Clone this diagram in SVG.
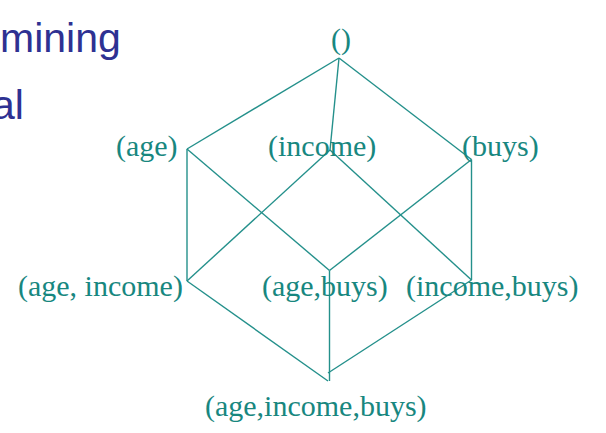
<svg xmlns="http://www.w3.org/2000/svg" width="606" height="433" viewBox="0 0 606 433">
<style>
.t{font-family:"Liberation Serif","Times New Roman",serif;font-size:30px;fill:#18877f}
.h{font-family:"Liberation Sans",Arial,sans-serif;font-size:41px;fill:#2e3192}
.c line{stroke:#24908b;stroke-width:1.4;fill:none}
</style>
<rect width="606" height="433" fill="#ffffff"/>
<g id="heading">
<text class="h" x="0" y="52">mining</text>
<text class="h" x="-8" y="118.5">al</text>
</g>
<g id="connectors" class="c">
<line x1="339" y1="58" x2="187" y2="149"/>
<line x1="339" y1="58" x2="330" y2="150"/>
<line x1="339" y1="58" x2="471.5" y2="159.5"/>
<line x1="187" y1="149" x2="187" y2="281"/>
<line x1="187" y1="149" x2="329.5" y2="270.5"/>
<line x1="330" y1="150" x2="187" y2="281"/>
<line x1="330" y1="150" x2="471.5" y2="280"/>
<line x1="471.5" y1="159.5" x2="329.5" y2="270.5"/>
<line x1="471.5" y1="159.5" x2="471.5" y2="280"/>
<line x1="187" y1="281" x2="328" y2="381"/>
<line x1="329.5" y1="270.5" x2="329.5" y2="381"/>
<line x1="471.5" y1="280" x2="328" y2="373"/>
</g>
<g id="node-empty"><text class="t" x="331" y="49">()</text></g>
<g id="node-age"><text class="t" x="116" y="156">(age)</text></g>
<g id="node-income"><text class="t" x="268" y="156">(income)</text></g>
<g id="node-buys"><text class="t" x="462" y="156">(buys)</text></g>
<g id="node-age-income"><text class="t" x="18" y="296">(age, income)</text></g>
<g id="node-age-buys"><text class="t" x="262" y="296">(age,buys)</text></g>
<g id="node-income-buys"><text class="t" x="406" y="296">(income,buys)</text></g>
<g id="node-age-income-buys"><text class="t" x="205" y="416">(age,income,buys)</text></g>
</svg>
